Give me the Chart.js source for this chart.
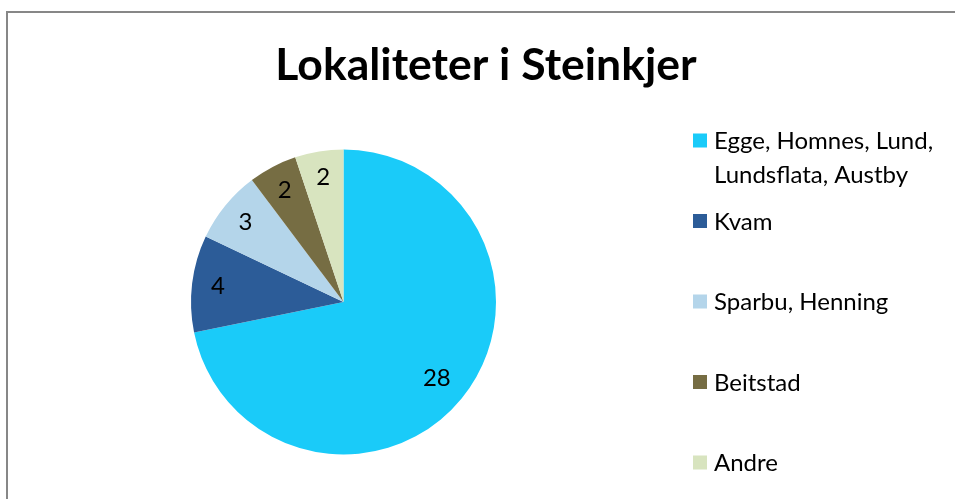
<!DOCTYPE html>
<html>
<head>
<meta charset="utf-8">
<script src="https://cdn.jsdelivr.net/npm/chart.js@4.4.1/dist/chart.umd.min.js"></script>
<style>
  body { margin: 0; background: #fff; }
  #wrap { position: relative; width: 955px; height: 499px; }
  #frame { position: absolute; left: 6px; top: 11px; right: 0; bottom: 0;
           border-top: 2px solid #878787; border-left: 2px solid #878787; }
  canvas { position: absolute; left: 0; top: 0; }
</style>
</head>
<body>
<div id="wrap">
  <div id="frame"></div>
  <canvas id="pie" width="955" height="499"></canvas>
</div>
<script>
const titleText = "Lokaliteter i Steinkjer";
const categories = ["Egge, Homnes, Lund, Lundsflata, Austby", "Kvam", "Sparbu, Henning", "Beitstad", "Andre"];
const counts = [28, 4, 3, 2, 2];
const sliceColors = ["#1acbf9", "#2c5c98", "#b4d5ea", "#766d43", "#d8e4bf"];

const FONT = "Lato, 'Open Sans', sans-serif";

// title drawn above the plot
const titlePlugin = {
  id: 'titleText',
  afterDraw(chart) {
    const ctx = chart.ctx
    ctx.save()
    ctx.font = "bold 44.5px " + FONT
    ctx.fillStyle = "#000"
    ctx.textAlign = "center"
    ctx.textBaseline = "alphabetic"
    ctx.fillText(titleText, 486, 80)
    ctx.restore()
  }
}

// value labels inside the slices
const valuePlugin = {
  id: 'sliceValues',
  afterDatasetsDraw(chart) {
    const ctx = chart.ctx
    const meta = chart.getDatasetMeta(0)
    ctx.save()
    ctx.font = "24px " + FONT
    ctx.fillStyle = "#000"
    ctx.textAlign = "center"
    ctx.textBaseline = "middle"
    meta.data.forEach((arc, i) => {
      const p = arc.getProps(['x', 'y', 'startAngle', 'endAngle', 'outerRadius'], true)
      const mid = (p.startAngle + p.endAngle) / 2
      const f = i === 0 ? 0.79 : 0.83
      ctx.fillText(String(counts[i]), p.x + Math.cos(mid) * p.outerRadius * f, p.y + Math.sin(mid) * p.outerRadius * f)
    })
    ctx.restore()
  }
}

// legend on the right, with wrapped labels
const legendPlugin = {
  id: 'sideLegend',
  afterDraw(chart) {
    const ctx = chart.ctx
    ctx.save()
    ctx.font = "24px " + FONT
    ctx.textBaseline = "middle"
    chart.data.labels.forEach((label, i) => {
      const y = 140.5 + i * 80.5
      ctx.fillStyle = sliceColors[i]
      ctx.fillRect(693, y - 7, 14, 14)
      // wrap words
      const words = label.split(" ")
      const lines = []
      let line = ""
      words.forEach(w => {
        const test = line ? line + " " + w : w
        if (ctx.measureText(test).width > 236 && line) { lines.push(line); line = w }
        else line = test
      })
      lines.push(line)
      ctx.fillStyle = "#000"
      lines.forEach((l, j) => ctx.fillText(l, 714, y + 1 + j * 33.5))
    })
    ctx.restore()
  }
}

new Chart("pie", {
  type: "pie",
  data: {
    labels: categories,
    datasets: [{
      data: counts,
      backgroundColor: sliceColors,
      borderWidth: 0
    }]
  },
  options: {
    responsive: false,
    animation: false,
    layout: { padding: { left: 191, right: 459, top: 149, bottom: 44 } },
    plugins: {
      legend: { display: false },
      title: { display: false },
      tooltip: { enabled: false }
    }
  },
  plugins: [titlePlugin, valuePlugin, legendPlugin]
});
</script>
</body>
</html>
